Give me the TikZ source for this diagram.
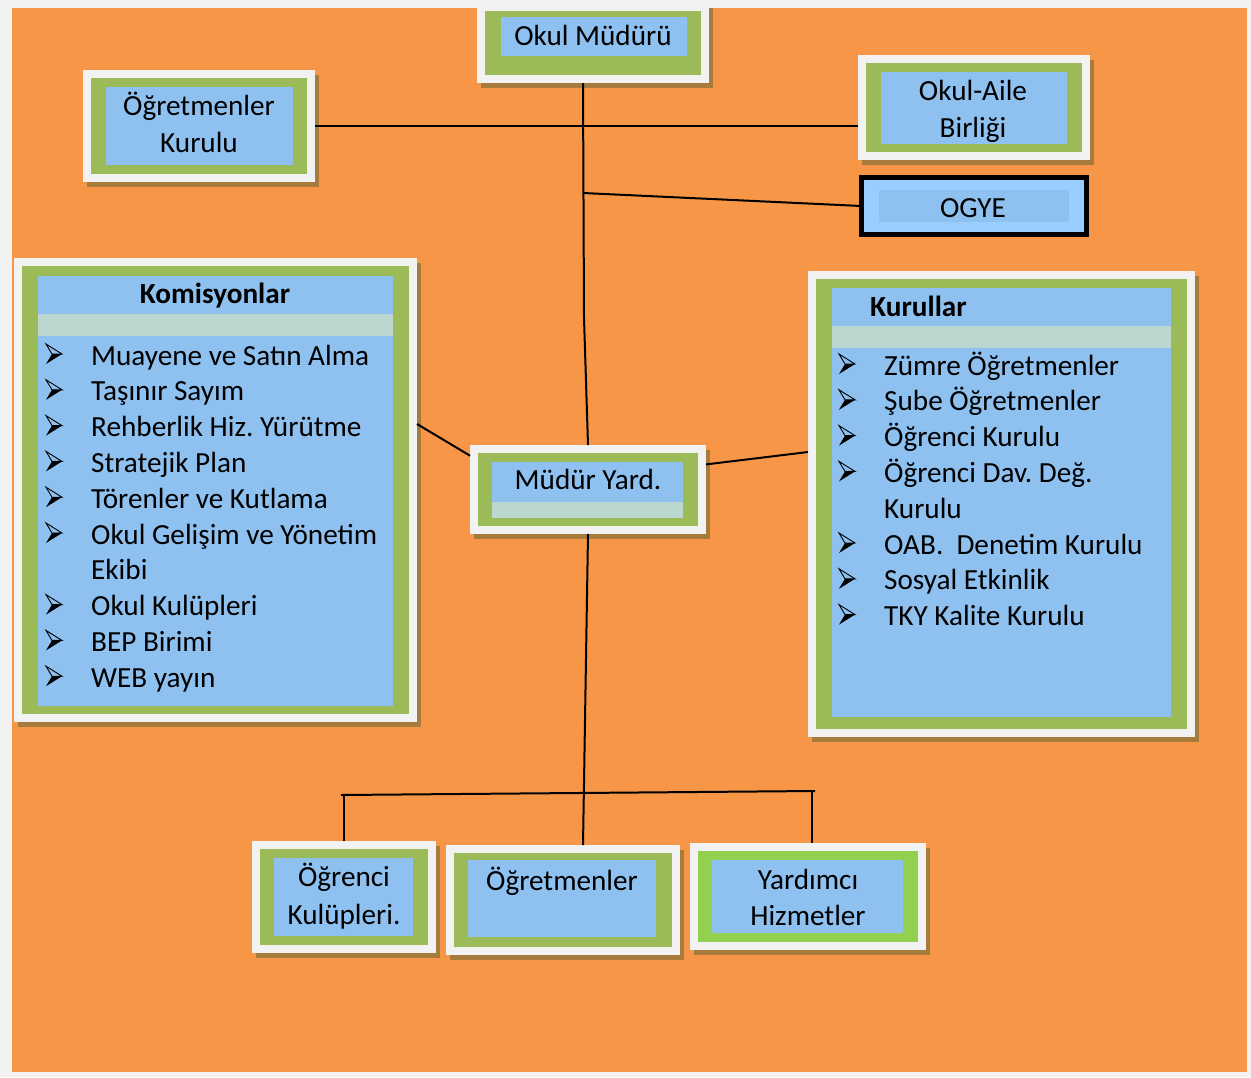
\documentclass[tikz,border=0pt]{standalone}
\usepackage{fontspec}
\setmainfont{Carlito}
\frenchspacing
\usetikzlibrary{fit}
\definecolor{bg}{HTML}{F2F2F2}
\definecolor{org}{HTML}{F79646}
\definecolor{grn}{HTML}{9BBB59}
\definecolor{lgrn}{HTML}{92D050}
\definecolor{blu}{HTML}{8EC1F0}
\definecolor{band}{HTML}{BBD7D0}
\definecolor{frm}{HTML}{F2F2F2}
\definecolor{shd}{HTML}{A67B3B}
\definecolor{ogyeb}{HTML}{99CCFF}
\colorlet{gcur}{grn}
\newcommand\obox[9]{%
 \fill[shd] (#2+4,#3+5) rectangle (#4+4,#5+5);
 \node[fit={(#2,#3)(#4,#5)}, inner sep=0pt, outer sep=0pt, fill=frm] (#1) {};
 \fill[gcur] (#2+8,#3+8) rectangle (#4-8,#5-8);
 \fill[blu] (#6,#7) rectangle (#8,#9);
}
\tikzset{
 txt/.style={inner sep=0pt, font=\fontsize{29.2}{36}\selectfont, anchor=base},
 item/.style={inner sep=0pt, font=\fontsize{29.2}{36}\selectfont, anchor=base west},
 conn/.style={line width=2pt, black},
 bul/.pic={\draw[line width=0.9pt, line join=miter] (0,-10)--(16,0)--(6,0)--cycle;
           \fill (6,0)--(16,0)--(0,10)--cycle;}
}
\begin{document}
\begin{tikzpicture}[x=1pt,y=-1pt]
\useasboundingbox (0,0) rectangle (1251,1077);
\fill[bg] (0,0) rectangle (1251,1077);
\fill[org] (12,8) rectangle (1247,1072);

% boxes
\obox{mudur}{477}{3}{709}{83}{501}{17}{687}{56}
\obox{ogrkur}{83}{70}{315}{182}{106}{87}{293}{165}
\obox{oab}{858}{55}{1090}{160}{881}{72}{1067}{144}
\obox{kom}{14}{258}{417}{722}{38}{276}{393}{706}
\fill[band] (38,314) rectangle (393,336);
\obox{kur}{808}{271}{1195}{737}{832}{288}{1171}{717}
\fill[band] (832,326) rectangle (1171,348);
\obox{yard}{470}{445}{706}{534}{492}{462}{683}{518}
\fill[band] (492,502) rectangle (683,518);
\obox{okul}{252}{841}{436}{953}{274}{858}{413}{936}
\obox{ogretmen}{446}{845}{680}{955}{468}{860}{656}{937}
\colorlet{gcur}{lgrn}
\obox{yardimci}{690}{843}{926}{950}{712}{860}{903}{933}

% OGYE
\node[fit={(861.5,177.5)(1086.5,234.5)}, inner sep=0pt, outer sep=0pt, fill=ogyeb, draw=black, line width=5pt] (ogye) {};
\fill[blu] (879,190) rectangle (1069,222);

% texts
\node[txt] (tmudur) at (593,45) {Okul Müdürü};
\node[txt] (togr1) at (199,115) {Öğretmenler};
\node[txt] (togr2) at (199,152) {Kurulu};
\node[txt] (toab1) at (973,100) {Okul-Aile};
\node[txt] (toab2) at (973,137) {Birliği};
\node[txt] (togye) at (973,217) {OGYE};
\node[txt, font=\fontsize{29.2}{36}\selectfont\bfseries] (tkom) at (215,303) {Komisyonlar};
\node[item, font=\fontsize{29.2}{36}\selectfont\bfseries] (tkur) at (870,316) {Kurullar};
\node[txt] (tyard) at (588,489) {Müdür Yard.};
\node[txt] (tok1) at (344,886) {Öğrenci};
\node[txt] (tok2) at (344,924) {Kulüpleri.};
\node[txt] (tog) at (562,890) {Öğretmenler};
\node[txt] (tya1) at (808,889) {Yardımcı};
\node[txt] (tya2) at (808,925) {Hizmetler};

% Komisyonlar list
\foreach \t [count=\i from 0] in {Muayene ve Satın Alma, Taşınır Sayım, Rehberlik Hiz. Yürütme, Stratejik Plan, Törenler ve Kutlama, Okul Gelişim ve Yönetim, Ekibi, Okul Kulüpleri, BEP Birimi, WEB yayın}{
  \node[item] (k\i) at (91,365+35.8*\i) {\t};
}
\foreach \i in {0,1,2,3,4,5,7,8,9}{
  \pic at (46,354+35.8*\i) {bul};
}
% Kurullar list
\foreach \t [count=\i from 0] in {Zümre Öğretmenler, Şube Öğretmenler, Öğrenci Kurulu, Öğrenci Dav. Değ., Kurulu, OAB.~~Denetim Kurulu, Sosyal Etkinlik, TKY Kalite Kurulu}{
  \node[item] (r\i) at (884,375+35.8*\i) {\t};
}
\foreach \i in {0,1,2,3,5,6,7}{
  \pic at (839,364+35.8*\i) {bul};
}

% connectors
\coordinate (mx) at (583,0);
\coordinate (mbend) at (584,318);
\coordinate (j1) at (583,193);
\coordinate (k1) at (417,424);
\coordinate (kw) at (808,452);
\coordinate (ob) at (583,845);
\coordinate (bl) at (341,795);
\coordinate (br) at (815,791);
\coordinate (dl) at (344,795);
\coordinate (dr) at (812,791);
\draw[conn] (mudur.south -| mx) -- (mbend) -- (yard.north);
\draw[conn] (ogrkur.east) -- (oab.west |- ogrkur.east);
\draw[conn] (j1) -- (ogye.west);
\draw[conn] (k1) -- (yard.164);
\draw[conn] (yard.12) -- (kw);
\draw[conn] (yard.south) -- (ob);
\draw[conn] (bl) -- (br);
\draw[conn] (dl) -- (okul.north -| dl);
\draw[conn] (dr) -- (yardimci.north -| dr);
\end{tikzpicture}
\end{document}
